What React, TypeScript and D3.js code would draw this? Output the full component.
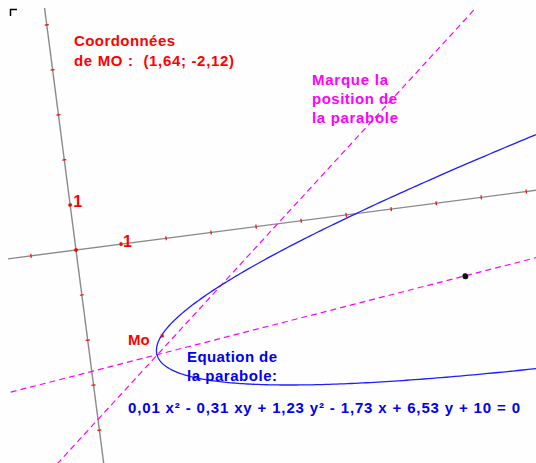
import * as d3 from "d3";
import { useEffect, useRef } from "react";

const width = 536;
const height = 463;

// repère oblique : origine O (pixels), unité, inclinaison
const originPx: [number, number] = [76, 250];
const unitPx = 45.4;
const tiltDeg = 7.4;

// graduations des axes
const xTicks = [-1, 0, 1, 2, 3, 4, 5, 6, 7, 8, 9, 10];
const yTicks = [-4, -3, -2, -1, 0, 1, 2, 3, 4, 5];
const xAxisRange = [-1.55, 10.4];
const yAxisRange = [-4.8, 5.4];

// équation affichée : a x² + b xy + c y² + d x + e y + f = 0
const eqCoefs = [0.01, -0.31, 1.23, -1.73, 6.53, 10];
const eqTerms = ["x²", "xy", "y²", "x", "y", ""];

// points et droites (coordonnées dans le repère)
const moPoint: [number, number] = [1.64, -2.12];
const axisPoint: [number, number] = [8.43, -1.68];
const markLines: [number, number][][] = [
  [[-1.02, -4.62], [9.63, 4.33]],
  [[-1.83, -2.92], [10.3, -1.44]],
];

const font = "'Liberation Sans', Arial, sans-serif";

function fmt(v: number) {
  return String(Math.abs(v)).replace(".", ",");
}

function equationText() {
  let s = "";
  eqCoefs.forEach((c, i) => {
    const body = fmt(c) + (eqTerms[i] ? " " + eqTerms[i] : "");
    if (i === 0) s += (c < 0 ? "- " : "") + body;
    else s += (c < 0 ? " - " : " + ") + body;
  });
  return s + " = 0";
}

export default function App() {
  const svgRef = useRef<SVGSVGElement>(null);

  useEffect(() => {
    const svg = d3.select(svgRef.current).attr("width", width).attr("height", height);
    svg.selectAll("*").remove();

    const sx = d3.scaleLinear().domain([0, 1]).range([0, unitPx]);
    const sy = d3.scaleLinear().domain([0, 1]).range([0, -unitPx]);

    const th = (-tiltDeg * Math.PI) / 180;
    const toScreen = (a: number, b: number): [number, number] => {
      const x = sx(a), y = sy(b);
      return [
        originPx[0] + x * Math.cos(th) - y * Math.sin(th),
        originPx[1] + x * Math.sin(th) + y * Math.cos(th),
      ];
    };

    svg.append("rect").attr("width", width).attr("height", height).attr("fill", "#fefefe");

    // coin
    svg.append("path")
      .attr("d", "M10.5,16 V9.5 H17")
      .attr("fill", "none")
      .attr("stroke", "#000")
      .attr("stroke-width", 1.5);

    svg.append("clipPath").attr("id", "zone")
      .append("rect").attr("x", 8).attr("y", 8).attr("width", width - 8).attr("height", height - 8);

    const g = svg.append("g").attr("clip-path", "url(#zone)")
      .append("g")
      .attr("transform", `translate(${originPx[0]},${originPx[1]}) rotate(${-tiltDeg})`);

    // axes
    g.append("line")
      .attr("x1", sx(xAxisRange[0])).attr("x2", sx(xAxisRange[1]))
      .attr("y1", 0).attr("y2", 0)
      .attr("stroke", "#8a8a8a").attr("stroke-width", 1.4);
    g.append("line")
      .attr("x1", 0).attr("x2", 0)
      .attr("y1", sy(yAxisRange[0])).attr("y2", sy(yAxisRange[1]))
      .attr("stroke", "#8a8a8a").attr("stroke-width", 1.4);

    g.selectAll("line.xt").data(xTicks).join("line")
      .attr("x1", d => sx(d)).attr("x2", d => sx(d))
      .attr("y1", -2).attr("y2", 2)
      .attr("stroke", "#ff0000").attr("stroke-width", 1.2);
    g.selectAll("line.yt").data(yTicks).join("line")
      .attr("x1", -2).attr("x2", 2)
      .attr("y1", d => sy(d)).attr("y2", d => sy(d))
      .attr("stroke", "#ff0000").attr("stroke-width", 1.2);

    // origine et points unité
    const unitPts: [number, number][] = [[0, 0], [1, 0], [0, 1]];
    g.selectAll("rect.u").data(unitPts).join("rect")
      .attr("x", d => sx(d[0]) - 1.5).attr("y", d => sy(d[1]) - 1.5)
      .attr("width", 3).attr("height", 3)
      .attr("fill", "#ff0000");

    // droites qui marquent la position de la parabole
    const line = d3.line<[number, number]>().x(d => sx(d[0])).y(d => sy(d[1]));
    g.selectAll("path.mark").data(markLines).join("path")
      .attr("d", d => line(d))
      .attr("fill", "none")
      .attr("stroke", "#ff00ff")
      .attr("stroke-width", 1.2)
      .attr("stroke-dasharray", "6,4");

    // parabole : le x² affiché (0,01) est tronqué ; une parabole exige b² = 4ac
    const [, b, c, d, e, f] = eqCoefs;
    const a = (b * b) / (4 * c);
    const k1 = 2 * b * e - 4 * c * d;
    const k0 = e * e - 4 * c * f;
    const xv = -k0 / k1;
    const steps = d3.range(0, 3.6, 0.02);
    const branch = (sign: number) => steps.map(s => {
      const x = xv + s * s;
      const disc = Math.max(0, (b * b - 4 * a * c) * x * x + k1 * x + k0);
      return [x, (-(b * x + e) + sign * Math.sqrt(disc)) / (2 * c)] as [number, number];
    });
    const curve = branch(-1).reverse().concat(branch(1));
    g.append("path")
      .attr("d", line(curve))
      .attr("fill", "none")
      .attr("stroke", "#1e1eff")
      .attr("stroke-width", 1.3);

    // points
    g.append("rect")
      .attr("x", sx(moPoint[0]) - 1.5).attr("y", sy(moPoint[1]) - 1.5)
      .attr("width", 3).attr("height", 3)
      .attr("fill", "#ff0000");
    g.append("circle")
      .attr("cx", sx(axisPoint[0])).attr("cy", sy(axisPoint[1]))
      .attr("r", 3)
      .attr("fill", "#111");

    // textes
    const txt = (x: number, y: number, s: string, color: string, w?: number, size = 15) => {
      const t = svg.append("text")
        .attr("x", x).attr("y", y)
        .attr("fill", color)
        .attr("font-family", font)
        .attr("font-weight", "bold")
        .attr("font-size", size)
        .style("white-space", "pre")
        .text(s);
      if (w) t.attr("textLength", w).attr("lengthAdjust", "spacing");
      return t;
    };

    const [jx, jy] = toScreen(0, 1);
    const [ix, iy] = toScreen(1, 0);
    txt(jx + 3, jy + 2.5, "1", "#ff0000", undefined, 16);
    txt(ix + 2, iy + 3, "1", "#ff0000", undefined, 16);

    txt(74, 46, "Coordonnées", "#ff0000", 101);
    txt(74, 66, `de MO :  (${fmt(moPoint[0])}; -${fmt(moPoint[1])})`, "#ff0000", 160);

    txt(312, 85, "Marque la", "#ff00ff", 76);
    txt(312, 104, "position de", "#ff00ff", 85);
    txt(312, 123, "la parabole", "#ff00ff", 86);

    txt(128, 345, "Mo", "#ff0000");

    txt(187, 362, "Equation de", "#0000ee", 90);
    txt(187, 381, "la parabole:", "#0000ee", 90);
    txt(128, 413, equationText(), "#0000ee", 392);
  }, []);

  return (
    <svg
      ref={svgRef}
      style={{ position: "absolute", left: 0, top: 0, display: "block" }}
    />
  );
}
